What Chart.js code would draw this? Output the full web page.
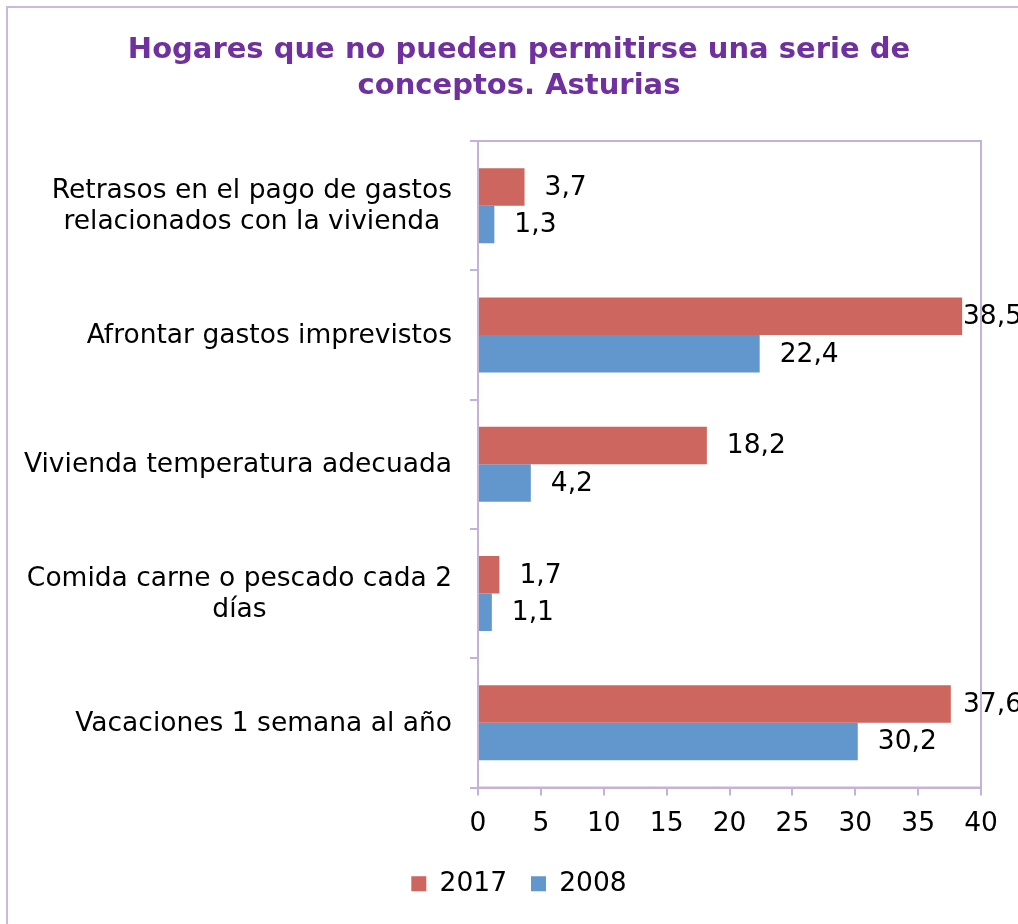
<!DOCTYPE html>
<html>
<head>
<meta charset="utf-8">
<script src="https://cdn.jsdelivr.net/npm/chart.js@4"></script>
<style>
  html, body { margin: 0; padding: 0; background: #fff; overflow: hidden; }
  #frame { position: absolute; left: 6px; top: 6px; width: 2000px; height: 2000px; border: 2px solid #c9b9dc; box-sizing: border-box; }
  #wrap { position: absolute; left: 0; top: 0; width: 1040px; height: 924px; }
</style>
</head>
<body>
<div id="frame"></div>
<div id="wrap"><canvas id="chart" width="1040" height="924"></canvas></div>
<script>
// Data
const categories = [
    ['Retrasos en el pago de gastos', 'relacionados con la vivienda'],
    ['Afrontar gastos imprevistos'],
    ['Vivienda temperatura adecuada'],
    ['Comida carne o pescado cada 2', 'días'],
    ['Vacaciones 1 semana al año']
];
const values2017 = [3.7, 38.5, 18.2, 1.7, 37.6];
const values2008 = [1.3, 22.4, 4.2, 1.1, 30.2];
const xTicks = [0, 5, 10, 15, 20, 25, 30, 35, 40];

const FONT = '"DejaVu Sans", Verdana, sans-serif';
const AXIS = '#c4b2d8';
const TXT = 26.5;

const fmt = v => v.toFixed(1).replace('.', ',');

// frame around the plot area
const plotBox = {
    id: 'plotBox',
    afterDraw(chart) {
        const a = chart.chartArea, c = chart.ctx;
        c.save();
        c.strokeStyle = AXIS;
        c.lineWidth = 2;
        c.strokeRect(a.left, a.top, a.right - a.left, a.bottom - a.top);
        c.restore();
    }
};

// category labels, each block centred on its own widest line
const catLabels = {
    id: 'catLabels',
    afterDraw(chart) {
        const s = chart.scales.y, c = chart.ctx;
        const rightEdge = chart.chartArea.left - 26;
        c.save();
        c.font = TXT + 'px ' + FONT;
        c.fillStyle = '#000';
        c.textAlign = 'center';
        c.textBaseline = 'middle';
        const lh = 31;
        categories.forEach((lines, i) => {
            const y = s.getPixelForTick(i) + 1;
            const w = Math.max(...lines.map(l => c.measureText(l).width));
            const x = rightEdge - w / 2;
            const y0 = y - (lines.length - 1) * lh / 2;
            lines.forEach((l, j) => c.fillText(l, x, y0 + j * lh));
        });
        c.restore();
    }
};

// value labels at the end of each bar
const valueLabels = {
    id: 'valueLabels',
    afterDatasetsDraw(chart) {
        const c = chart.ctx, a = chart.chartArea;
        c.save();
        c.font = TXT + 'px ' + FONT;
        c.fillStyle = '#000';
        c.textAlign = 'left';
        c.textBaseline = 'middle';
        chart.data.datasets.forEach((ds, di) => {
            chart.getDatasetMeta(di).data.forEach((bar, i) => {
                const x = Math.min(bar.x + 20, a.right - 18);
                c.fillText(fmt(ds.data[i]), x, bar.y + 1);
            });
        });
        c.restore();
    }
};

new Chart(document.getElementById('chart').getContext('2d'), {
    type: 'bar',
    data: {
        labels: categories,
        datasets: [
            { label: '2017', data: values2017, backgroundColor: '#cd665f', categoryPercentage: 0.58, barPercentage: 1 },
            { label: '2008', data: values2008, backgroundColor: '#6197cc', categoryPercentage: 0.58, barPercentage: 1 }
        ]
    },
    options: {
        indexAxis: 'y',
        responsive: false,
        animation: false,
        layout: { padding: { left: 57, right: 59, top: 0, bottom: 17 } },
        plugins: {
            title: {
                display: true,
                text: ['Hogares que no pueden permitirse una serie de', 'conceptos. Asturias'],
                color: '#7030a0',
                font: { family: FONT, size: 29, weight: 'bold', lineHeight: 1.25 },
                padding: { top: 32, bottom: 36.5 }
            },
            legend: {
                position: 'bottom',
                labels: {
                    color: '#000',
                    font: { family: FONT, size: TXT },
                    boxWidth: 15,
                    boxHeight: 15,
                    padding: 24
                }
            },
            tooltip: { enabled: false }
        },
        scales: {
            x: {
                min: 0,
                max: 40,
                afterBuildTicks: s => { s.ticks = xTicks.map(v => ({ value: v })); },
                afterFit: s => { s.height = 59; },
                grid: { drawOnChartArea: false, color: AXIS, lineWidth: 2, tickLength: 8 },
                border: { color: AXIS, width: 2 },
                ticks: { color: '#000', font: { family: FONT, size: TXT }, padding: 13 }
            },
            y: {
                afterFit: s => { s.width = 421; },
                grid: { drawOnChartArea: false, color: AXIS, lineWidth: 2, tickLength: 8, offset: true },
                border: { color: AXIS, width: 2 },
                ticks: { color: 'transparent', font: { family: FONT, size: TXT } }
            }
        }
    },
    plugins: [plotBox, catLabels, valueLabels]
});
</script>
</body>
</html>
